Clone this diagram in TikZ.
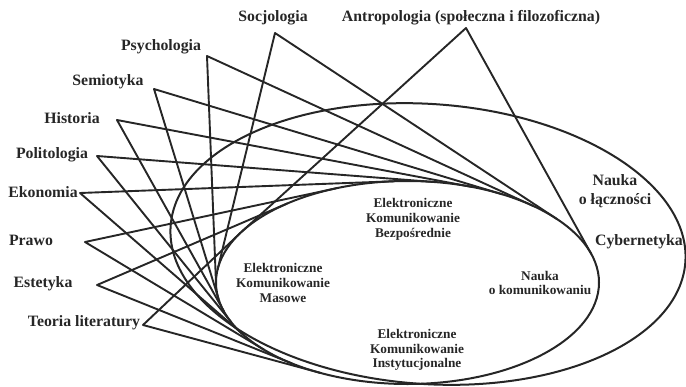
\documentclass[tikz,border=0pt]{standalone}
\usepackage{fontspec}
\setmainfont{Liberation Serif}
\begin{document}
\begin{tikzpicture}[x=1pt,y=-1pt,line join=round,line cap=round]
\useasboundingbox (0,0) rectangle (686,386);
\tikzset{
  web/.style={line width=1.9pt,draw=black!85},
  ring/.style={line width=2pt,draw=black!85},
  lab/.style={font=\fontsize{15.8}{19}\selectfont\bfseries,inner sep=0pt,align=center,text=black!85},
  inlab/.style={font=\fontsize{13.3}{14.8}\selectfont\bfseries,inner sep=0pt,align=center,text=black!85},
}
\def\ecx{407.5}\def\ecy{282.5}\def\era{191.5}\def\erb{101.5}
\newcommand\discipline[3]{%
  \pgfmathsetmacro\tgu{(#2-\ecx)/\era}%
  \pgfmathsetmacro\tgv{(#3-\ecy)/\erb}%
  \pgfmathsetmacro\tgphi{atan2(\tgv,\tgu)}%
  \pgfmathsetmacro\tgdel{acos(1/sqrt(\tgu*\tgu+\tgv*\tgv))}%
  \coordinate (#1) at (#2,#3);
  \coordinate (#1-a) at ({\ecx+\era*cos(\tgphi+\tgdel)},{\ecy+\erb*sin(\tgphi+\tgdel)});
  \coordinate (#1-b) at ({\ecx+\era*cos(\tgphi-\tgdel)},{\ecy+\erb*sin(\tgphi-\tgdel)});
  \draw[web] (#1-a) -- (#1) -- (#1-b);
}
% ellipses
\coordinate (oc) at (428,244);
\draw[ring,rotate around={-4:(oc)}] (oc) ellipse [x radius=258,y radius=140];
\coordinate (ic) at (\ecx,\ecy);
\draw[ring] (ic) ellipse [x radius=\era,y radius=\erb];
% discipline vertices and tangent lines
\discipline{soc}{275}{33}
\discipline{ant}{466}{28}
\discipline{psy}{207}{56}
\discipline{sem}{154}{89}
\discipline{his}{117}{120}
\discipline{pol}{97}{156}
\discipline{eko}{80}{193}
\discipline{pra}{85}{242}
\discipline{est}{97}{285}
\discipline{teo}{143}{325}
% labels
\node[lab] (lsoc) at (273,18) {Socjologia};
\node[lab] (lant) at (471,18) {Antropologia (społeczna i filozoficzna)};
\node[lab] (lpsy) at (161,47) {Psychologia};
\node[lab] (lsem) at (108,82) {Semiotyka};
\node[lab] (lhis) at (72,118) {Historia};
\node[lab] (lpol) at (52,155) {Politologia};
\node[lab] (leko) at (43,192) {Ekonomia};
\node[lab] (lpra) at (31,240) {Prawo};
\node[lab] (lest) at (43,284) {Estetyka};
\node[lab] (lteo) at (84,323) {Teoria literatury};
\node[lab] (llacz) at (615,191) {Nauka\\o łączności};
\node[lab] (lcyb) at (639,242) {Cybernetyka};
\node[inlab] (lbez) at (413,219) {Elektroniczne\\Komunikowanie\\Bezpośrednie};
\node[inlab] (lmas) at (283,283) {Elektroniczne\\Komunikowanie\\Masowe};
\node[inlab] (lins) at (417,350) {Elektroniczne\\Komunikowanie\\Instytucjonalne};
\node[inlab] (lkom) at (540,283) {Nauka\\o komunikowaniu};
\end{tikzpicture}
\end{document}
